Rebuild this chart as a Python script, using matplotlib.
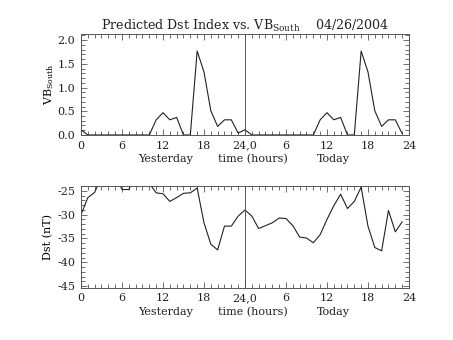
import numpy as np
import matplotlib
matplotlib.use('Agg')
import matplotlib.pyplot as plt
import matplotlib.transforms as mtransforms

plt.rcParams['font.family'] = 'DejaVu Serif'
plt.rcParams['mathtext.fontset'] = 'dejavuserif'
plt.rcParams['axes.unicode_minus'] = False
plt.rcParams['text.color'] = '#222222'

# hours since 0 UT yesterday (0-23 yesterday, 24-47 today)
hours = np.arange(48)

vb_yesterday = [0.11, 0, 0, 0, 0, 0, 0, 0, 0, 0, 0, 0.32,
                0.47, 0.32, 0.37, 0, 0, 1.77, 1.33, 0.51, 0.18, 0.32, 0.32, 0.04]
vb_today = [0.11, 0, 0, 0, 0, 0, 0, 0, 0, 0, 0, 0.32,
            0.47, 0.32, 0.37, 0, 0, 1.77, 1.33, 0.51, 0.18, 0.32, 0.32, 0.03]

dst_yesterday = [-30.0, -26.4, -25.3, -22.0, -21.5, -21.7, -24.7, -24.7, -21.7, -22.5, -23.4, -25.4,
                 -25.6, -27.2, -26.4, -25.5, -25.4, -24.4, -31.7, -36.2, -37.4, -32.4, -32.4, -30.3]
dst_today = [-29.0, -30.3, -32.9, -32.3, -31.7, -30.7, -30.8, -32.3, -34.7, -34.9, -35.9, -34.2,
             -31.0, -28.1, -25.7, -28.7, -27.2, -24.2, -32.4, -36.9, -37.6, -29.1, -33.6, -31.5]

tick_pos = [0, 6, 12, 18, 24, 30, 36, 42, 48]
tick_lab = ['0', '6', '12', '18', '24,0', '6', '12', '18', '24']
sub_labels = [('Yesterday', 12.4), ('time (hours)', 25.2), ('Today', 37.0)]

fig = plt.figure(figsize=(4.53, 3.40), dpi=100)
ax1 = fig.add_axes([0.1788, 0.603, 0.724, 0.297])
ax2 = fig.add_axes([0.1788, 0.1538, 0.724, 0.300])

lc = '#222222'
fs = 8


def style(ax):
    ax.set_xlim(0, 48)
    ax.set_xticks(tick_pos)
    ax.set_xticklabels(tick_lab)
    ax.set_xticks(np.arange(0, 49, 1), minor=True)
    ax.tick_params(which='both', direction='in', top=True, right=True,
                   color='#555555', labelcolor='#222222', labelsize=fs, pad=4, width=0.6)
    ax.tick_params(which='major', length=4.5)
    ax.tick_params(which='minor', length=2.8)
    for s in ax.spines.values():
        s.set_color('#555555')
        s.set_linewidth(0.7)
    ax.axvline(24, color='#555555', lw=0.7)
    tr = mtransforms.blended_transform_factory(ax.transData, ax.transAxes)
    for txt, xp in sub_labels:
        ax.text(xp, -0.235, txt, transform=tr, ha='center', va='center', fontsize=fs)


# VB south
vb = vb_yesterday + vb_today
ax1.plot(hours, vb, color=lc, lw=0.8)
ax1.set_ylim(0, 2.13)
ax1.set_yticks([0, 0.5, 1.0, 1.5, 2.0])
ax1.set_yticklabels(['0.0', '0.5', '1.0', '1.5', '2.0'])
ax1.set_yticks(np.arange(0, 2.11, 0.1), minor=True)
style(ax1)
ax1.set_ylabel(r'VB$_{\rm South}$', fontsize=fs, labelpad=1)
ax1.set_title(r'Predicted Dst Index vs. VB$_{\rm South}$    04/26/2004',
              fontsize=9.1, pad=1.5)

# Dst
dst = dst_yesterday + dst_today
ax2.plot(hours, dst, color=lc, lw=0.8)
ax2.set_ylim(-45.35, -23.9)
ax2.set_yticks([-45, -40, -35, -30, -25])
ax2.set_yticklabels(['-45', '-40', '-35', '-30', '-25'])
ax2.set_yticks(np.arange(-45, -23, 1), minor=True)
style(ax2)
ax2.set_ylabel('Dst (nT)', fontsize=fs, labelpad=3)

fig.savefig('out.png', dpi=100)
